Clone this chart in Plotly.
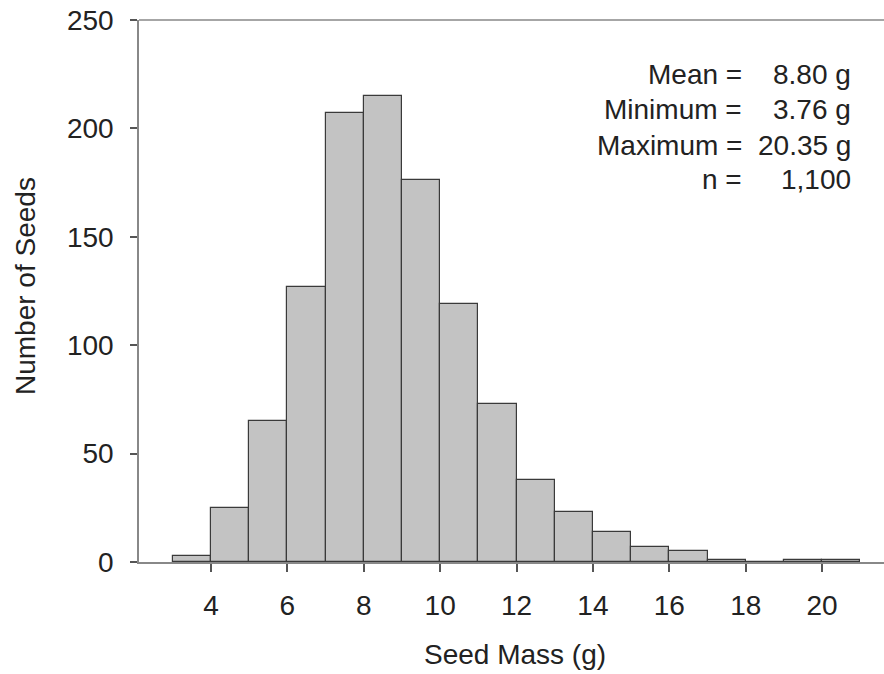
import plotly.graph_objects as go

bin_starts = [3, 4, 5, 6, 7, 8, 9, 10, 11, 12, 13, 14, 15, 16, 17, 18, 19, 20]
counts = [3, 25, 65, 127, 207, 215, 176, 119, 73, 38, 23, 14, 7, 5, 1, 0, 1, 1]
x_ticks = [4, 6, 8, 10, 12, 14, 16, 18, 20]
y_ticks = [0, 50, 100, 150, 200, 250]
stat_labels = ["Mean =", "Minimum =", "Maximum =", "n ="]
stat_values = ["8.80 g", "3.76 g", "20.35 g", "1,100"]

centers = [b + 0.5 for b in bin_starts]

FONT = "Liberation Sans, Arial, sans-serif"
TXT = "#222222"
FS = 28

fig = go.Figure()
fig.add_trace(go.Bar(
    x=centers, y=counts, width=1,
    marker=dict(color="#c3c3c3", line=dict(color="#3a3a3a", width=1.2)),
    showlegend=False, hoverinfo="skip",
))

W, H = 884, 674
ml, mt = 139, 20
plot_bottom = 562
mr, mb = 0, H - plot_bottom
plot_w = W - ml - mr
plot_h = H - mt - mb


def px(xs):
    return (xs - ml) / plot_w


def py(ys):
    return (plot_bottom - ys) / plot_h


fig.update_layout(
    width=W, height=H,
    margin=dict(l=ml, r=mr, t=mt, b=mb, autoexpand=False),
    paper_bgcolor="white", plot_bgcolor="white",
    font=dict(family=FONT, size=FS, color=TXT),
    bargap=0,
    xaxis=dict(
        range=[2.115, 21.62], tickvals=x_ticks, ticktext=[str(v) for v in x_ticks],
        ticks="outside", ticklen=8, tickwidth=1.5, tickcolor="#555555",
        showline=True, linecolor="#888888", linewidth=1.5, mirror=False,
        showgrid=False, zeroline=False, automargin=False,
        ticklabelstandoff=10, tickfont=dict(size=FS), ticklabeloverflow="allow",
    ),
    yaxis=dict(
        range=[0, 250.001], tickvals=y_ticks,
        ticks="outside", ticklen=7, tickwidth=1.5, tickcolor="#555555",
        showline=True, linecolor="#888888", linewidth=1.5,
        showgrid=False, zeroline=False, automargin=False,
        ticklabelstandoff=11, tickfont=dict(size=FS), ticklabeloverflow="allow",
    ),
)

# top frame line
fig.add_shape(type="line", xref="paper", yref="paper", x0=0, x1=1, y0=1, y1=1,
              line=dict(color="#888888", width=1.5))

# axis titles
fig.add_annotation(xref="paper", yref="paper", x=px(515), y=py(654),
                   text="Seed Mass (g)", showarrow=False, xanchor="center", yanchor="middle",
                   font=dict(size=FS, family=FONT, color=TXT))
fig.add_annotation(xref="paper", yref="paper", x=px(25), y=py(286),
                   text="Number of Seeds", showarrow=False, textangle=-90,
                   xanchor="center", yanchor="middle",
                   font=dict(size=FS, family=FONT, color=TXT))

line_y = [74, 110, 145, 179]
for lab, val, yy in zip(stat_labels, stat_values, line_y):
    fig.add_annotation(xref="paper", yref="paper", x=px(744), y=py(yy),
                       text=lab, showarrow=False, xanchor="right", yanchor="middle",
                       font=dict(size=FS, family=FONT, color=TXT))
    fig.add_annotation(xref="paper", yref="paper", x=px(853), y=py(yy),
                       text=val, showarrow=False, xanchor="right", yanchor="middle",
                       font=dict(size=FS, family=FONT, color=TXT))

fig.write_html(
    "out.html",
    config={"displayModeBar": False},
    post_script="document.body.style.margin='0';document.body.style.overflow='hidden';",
)
